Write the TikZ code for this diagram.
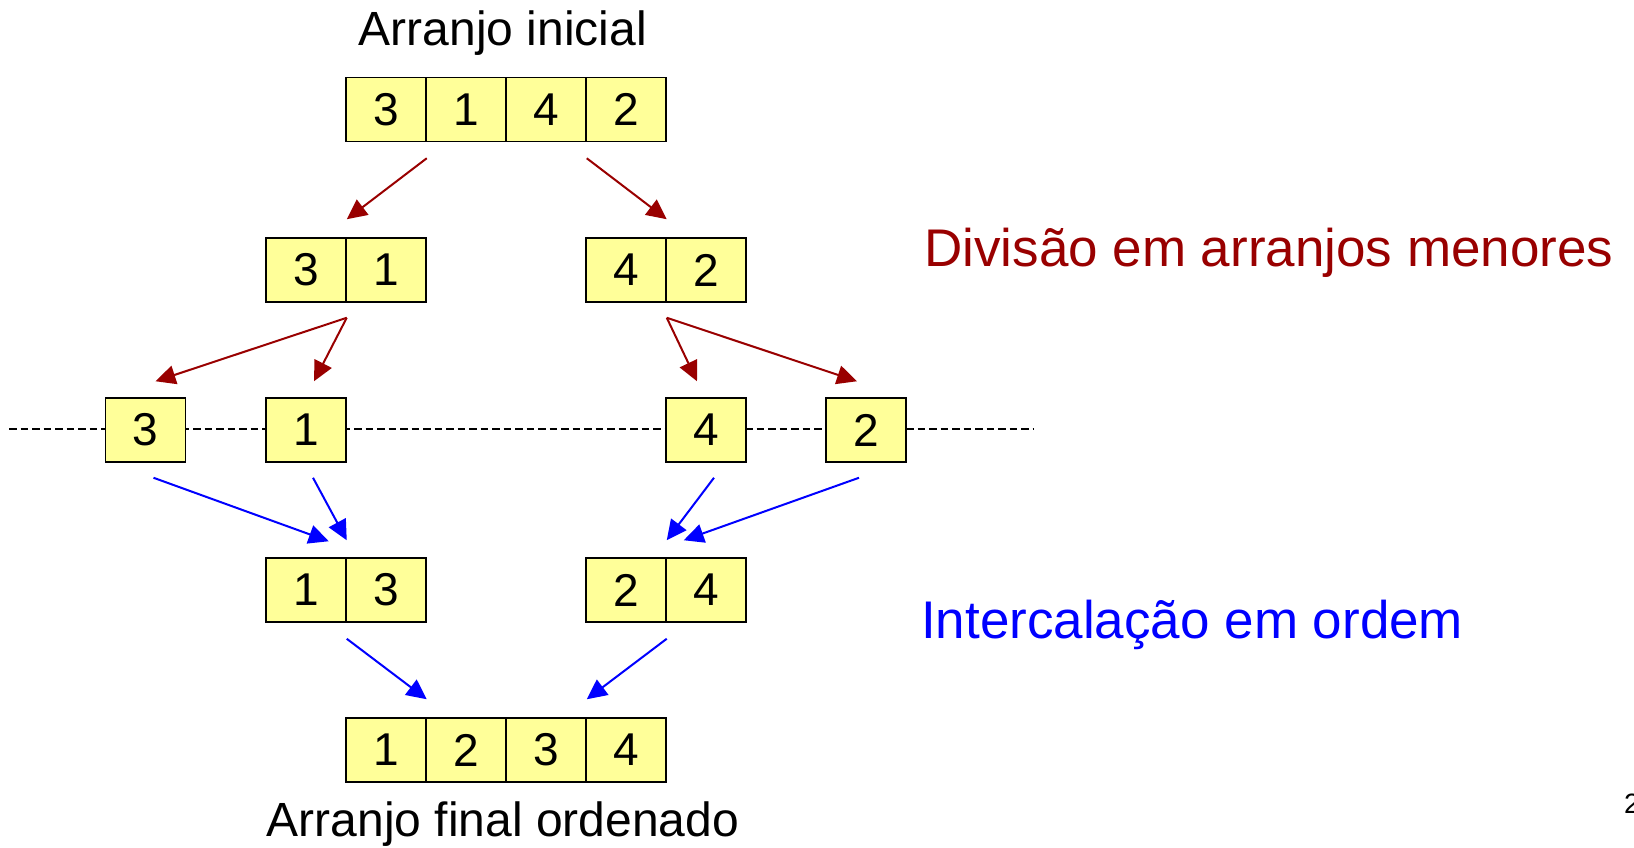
\documentclass[tikz,border=0pt]{standalone}
\usepackage{fontspec}
\setmainfont{Liberation Sans}
\usepackage{tikz}
\usetikzlibrary{arrows.meta}
\usepackage{xcolor}
\definecolor{cellfill}{HTML}{FFFF99}
\definecolor{divred}{HTML}{990000}
\definecolor{mergeblue}{HTML}{0000FF}

\tikzset{
  cell/.style={draw=black,fill=cellfill,line width=1.5pt,minimum width=80pt,minimum height=64pt,
    inner sep=0pt,font=\fontsize{46}{50}\selectfont},
  divarrow/.style={-{Triangle[length=20pt,width=19pt]},draw=divred,line width=2pt},
  mergearrow/.style={-{Triangle[length=20pt,width=19pt]},draw=mergeblue,line width=2pt},
  caption/.style={inner sep=0pt,font=\fontsize{48}{52}\selectfont},
  sidelabel/.style={inner sep=0pt,anchor=base west,font=\fontsize{53}{58}\selectfont}
}

\begin{document}
\begin{tikzpicture}[x=1pt,y=-1pt]
    \useasboundingbox (0,0) rectangle (1634,847);
    \draw[dashed,dash pattern=on 7.5pt off 4pt,line width=1.5pt](9,429)--(1033,429);%linha
    %arranjo inicial
    \node[cell](a1) at (386,109.5){3};
    \node[cell](a2) at (466,109.5){1};
    \node[cell](a3) at (546,109.5){4};
    \node[cell](a4) at (626,109.5){2};
    %divisao
    \node[cell](b1) at (306,270){3};
    \node[cell](b2) at (386,270){1};
    \node[cell](b3) at (626,270){4};
    \node[cell](b4) at (706,270){2};
    \node[cell](c1) at (145.5,430){3};
    \node[cell](c2) at (306,430){1};
    \node[cell](c3) at (706,430){4};
    \node[cell](c4) at (866,430){2};
    %intercalacao
    \node[cell](d1) at (306,590){1};
    \node[cell](d2) at (386,590){3};
    \node[cell](d3) at (626,590){2};
    \node[cell](d4) at (706,590){4};
    \node[cell](e1) at (386,750){1};
    \node[cell](e2) at (466,750){2};
    \node[cell](e3) at (546,750){3};
    \node[cell](e4) at (626,750){4};
    %textos
    \node[caption,anchor=base](tini) at (503,45){Arranjo inicial};
    \node[caption,anchor=base](tfin) at (503,836){Arranjo final ordenado};
    \node[sidelabel,text=divred](tdiv) at (924,266){Divisão em arranjos menores};
    \node[sidelabel,text=mergeblue](tint) at (921,638){Intercalação em ordem};
    \node[inner sep=0pt,anchor=base west,font=\fontsize{28}{30}\selectfont](pg) at (1624,813){2};
    %setas vermelhas
    \draw[divarrow]([shift={(0,16)}]a1.south east)--([shift={(0,-18)}]b1.north east);
    \draw[divarrow]([shift={(0,16)}]a3.south east)--([shift={(0,-18)}]b3.north east);
    \draw[divarrow]([shift={(0,15)}]b1.south east)--([shift={(10,-16)}]c1.north);
    \draw[divarrow]([shift={(0,15)}]b1.south east)--([shift={(8,-16)}]c2.north);
    \draw[divarrow]([shift={(0,15)}]b3.south east)--([shift={(-9,-16)}]c3.north);
    \draw[divarrow]([shift={(0,15)}]b3.south east)--([shift={(-9,-16)}]c4.north);
    %setas azuis
    \draw[mergearrow]([shift={(8,15)}]c1.south)--([shift={(-18,-16)}]d1.north east);
    \draw[mergearrow]([shift={(7,15)}]c2.south)--([shift={(0,-17)}]d1.north east);
    \draw[mergearrow]([shift={(8,15)}]c3.south)--([shift={(0,-17)}]d3.north east);
    \draw[mergearrow]([shift={(-7,15)}]c4.south)--([shift={(17,-17)}]d3.north east);
    \draw[mergearrow]([shift={(0,16)}]d1.south east)--([shift={(0,-18)}]e1.north east);
    \draw[mergearrow]([shift={(0,16)}]d3.south east)--([shift={(0,-18)}]e3.north east);
\end{tikzpicture}
\end{document}
